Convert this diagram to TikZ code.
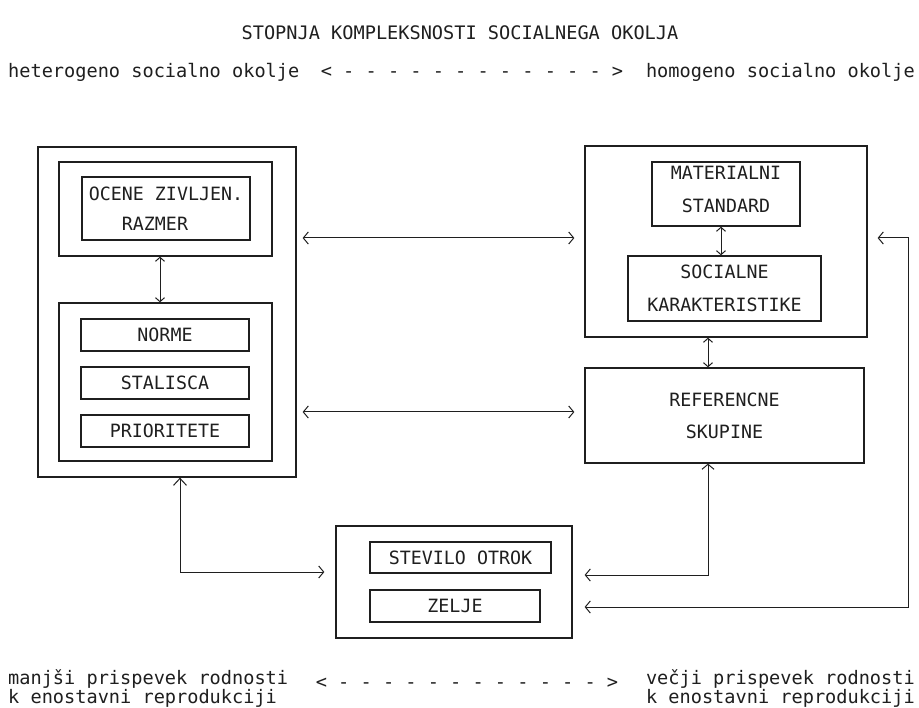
\documentclass[tikz,border=0pt]{standalone}
\usepackage{fontspec}
\newfontfamily\dm{DejaVu Sans Mono}
\usetikzlibrary{arrows.meta}
\definecolor{ink}{gray}{0.12}
\tikzset{
  box/.style={draw=ink, line width=1.3pt, inner sep=0pt, text=ink,
    font=\dm\fontsize{18.3}{31}\selectfont, align=center},
  txt/.style={inner sep=0pt, text=ink, font=\dm\fontsize{18.6}{20}\selectfont},
  conn/.style={draw=ink, line width=1pt,
    {Straight Barb[length=5pt,width=12pt]}-{Straight Barb[length=5pt,width=12pt]}},
  conn2/.style={draw=ink, line width=1pt,
    {Straight Barb[length=4pt,width=9pt]}-{Straight Barb[length=4pt,width=9pt]}},
  connup/.style={draw=ink, line width=1pt,
    {Straight Barb[length=7pt,width=13pt]}-{Straight Barb[length=5pt,width=12pt]}},
}
\begin{document}
\begin{tikzpicture}[x=1pt,y=-1pt]
\fill[white] (0,0) rectangle (919,708);
\useasboundingbox (0,0) rectangle (919,708);

% header texts
\node[txt, anchor=base] (title) at (460,40) {STOPNJA KOMPLEKSNOSTI SOCIALNEGA OKOLJA};
\node[txt, anchor=base west] (het) at (8,78) {heterogeno socialno okolje};
\node[txt, anchor=base east] (hom) at (915,78) {homogeno socialno okolje};
\node[txt, anchor=base] (dash1) at (472,78) {< - - - - - - - - - - - - >};

% left column
\node[box, minimum width=258pt, minimum height=330pt] (outerL) at (167,312) {};
\node[box, minimum width=213pt, minimum height=94pt] (in1) at (165.5,209) {};
\node[box, minimum width=168pt, minimum height=63pt, align=left,
      font=\dm\fontsize{18.3}{30}\selectfont] (ocene) at (166,208.5)
      {OCENE ZIVLJEN.\\\hphantom{OCE}RAZMER};
\node[box, minimum width=213pt, minimum height=158pt] (in2) at (165.5,382) {};
\node[box, minimum width=168pt, minimum height=32pt] (norme) at (165,335) {NORME};
\node[box, minimum width=168pt, minimum height=32pt] (stal) at (165,383) {STALISCA};
\node[box, minimum width=168pt, minimum height=32pt] (prio) at (165,431) {PRIORITETE};

% right column
\node[box, minimum width=282pt, minimum height=191pt] (outerR) at (726,241.5) {};
\node[box, minimum width=148pt, minimum height=64pt, text depth=9pt,
      font=\dm\fontsize{18.3}{33}\selectfont] (mat) at (726,194) {MATERIALNI\\STANDARD};
\node[box, minimum width=193pt, minimum height=65pt,
      font=\dm\fontsize{18.3}{33}\selectfont] (soc) at (724.5,288.5) {SOCIALNE\\KARAKTERISTIKE};
\node[box, minimum width=279pt, minimum height=95pt,
      font=\dm\fontsize{18.3}{32}\selectfont] (ref) at (724.5,415.5) {REFERENCNE\\SKUPINE};

% bottom
\node[box, minimum width=236pt, minimum height=112pt] (botbox) at (454,582) {};
\node[box, minimum width=181pt, minimum height=31pt] (stev) at (460.5,557.5) {STEVILO OTROK};
\node[box, minimum width=170pt, minimum height=32pt] (zelje) at (455,606) {ZELJE};

% footer texts
\node[txt, anchor=base west] (manj1) at (8,684) {manjši prispevek rodnosti};
\node[txt, anchor=base west] (manj2) at (8,703) {k enostavni reprodukciji};
\node[txt, anchor=base east] (vec1) at (915,684) {večji prispevek rodnosti};
\node[txt, anchor=base east] (vec2) at (915,703) {k enostavni reprodukciji};
\node[txt, anchor=base] (dash2) at (467,688) {< - - - - - - - - - - - - >};

% helper coordinates
\coordinate (ya) at (0,238);
\coordinate (yb) at (0,412);
\coordinate (yc) at (0,572);
\coordinate (yd) at (0,575);
\coordinate (ye) at (0,607);
\coordinate (xr) at (908,0);

% connectors
\draw[conn, shorten <=6pt, shorten >=10pt] (outerL.east |- ya) -- (outerR.west |- ya);
\draw[conn, shorten <=6pt, shorten >=10pt] (outerL.east |- yb) -- (ref.west |- yb);
\draw[conn2] ([xshift=-5.5pt]in1.south) -- ([xshift=-5.5pt]in1.south |- in2.north);
\draw[conn2] ([xshift=-5pt]mat.south) -- ([xshift=-5pt]mat.south |- soc.north);
\draw[conn2] ([xshift=-18pt]outerR.south) -- ([xshift=-18pt]outerR.south |- ref.north);
\draw[connup, shorten >=11pt] ([xshift=13pt]outerL.south) |- (botbox.west |- yc);
\draw[conn, shorten <=12pt] (botbox.east |- yd) -| ([xshift=-16.5pt]ref.south);
\draw[conn, shorten <=12pt, shorten >=10pt] (botbox.east |- ye) -| (xr |- ya) -- (outerR.east |- ya);
\end{tikzpicture}
\end{document}
